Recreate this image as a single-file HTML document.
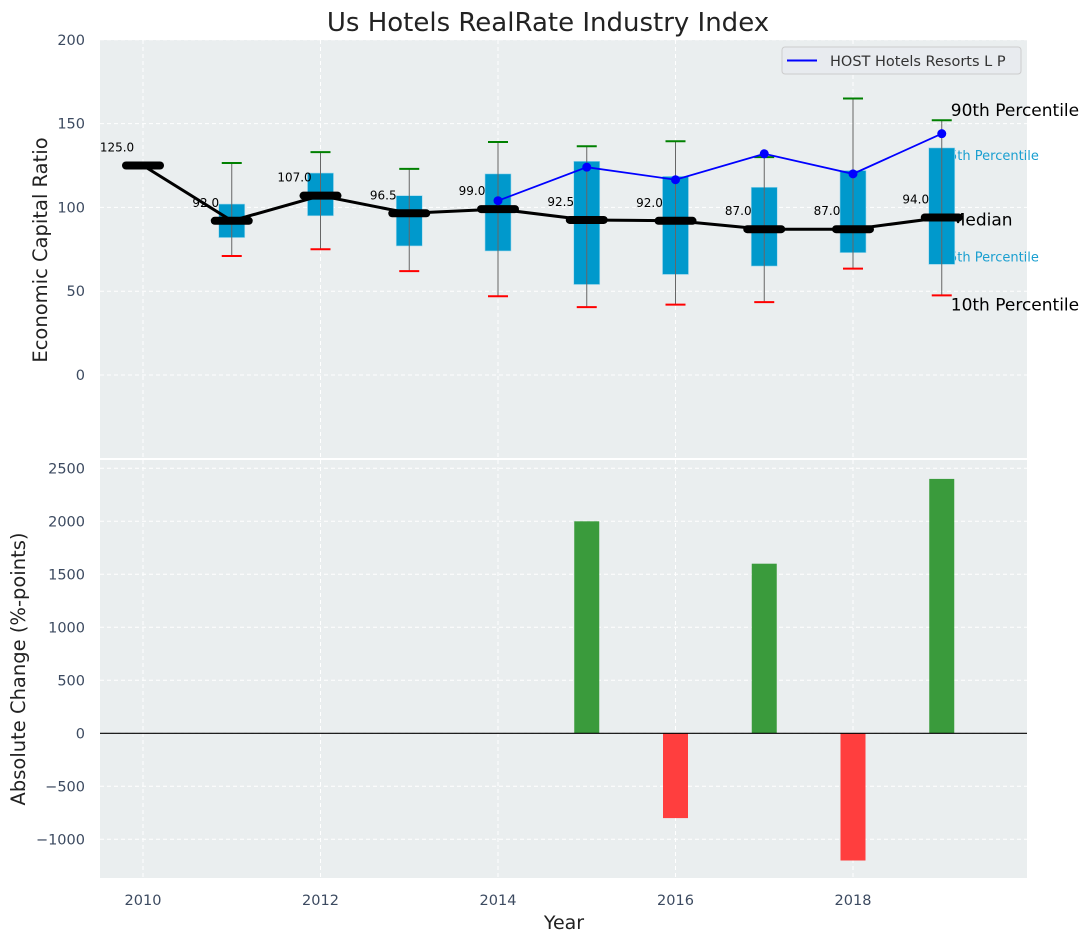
<!DOCTYPE html>
<html><head><meta charset="utf-8"><style>
body{margin:0;background:#fff}
svg text{font-family:"DejaVu Sans","Liberation Sans",sans-serif}
</style></head><body>
<svg id="c" width="1085" height="942" xmlns="http://www.w3.org/2000/svg"></svg>
<script>
const years=[2010,2011,2012,2013,2014,2015,2016,2017,2018,2019];
const medians=[125,92,107,96.5,99,92.5,92,87,87,94];
const q25=[null,82,95,77,74,54,60,65,73,66];
const q75=[null,102,120.5,107,120,127.5,118.5,112,122,135.5];
const p90=[null,126.5,133,123,139,136.5,139.5,130,165,152];
const p10=[null,71,75,62,47,40.5,42,43.5,63.5,47.5];
const hostYears=[2014,2015,2016,2017,2018,2019];
const hostVals=[104,124,116.5,132,120,144];
const changeYears=[2015,2016,2017,2018,2019];
const changeVals=[2000,-800,1600,-1200,2400];
const topTicks=[0,50,100,150,200];
const botTicks=[-1000,-500,0,500,1000,1500,2000,2500];
const xTicks=[2010,2012,2014,2016,2018];

const NS="http://www.w3.org/2000/svg";
const svg=document.getElementById('c');
const L=100,R=1027;
const x=v=>143+(v-2010)*88.75;
const yT=v=>375-v*1.676;
const yB=v=>733.3-v*0.106;
function el(t,a,p){const e=document.createElementNS(NS,t);for(const k in a)e.setAttribute(k,a[k]);(p||svg).appendChild(e);return e;}
function tx(s,a,p){const e=el('text',a,p);e.textContent=s;return e;}

let bg=el('rect',{x:L,y:40,width:R-L,height:418,fill:'#eaeeef'});


let bg2=el('rect',{x:L,y:460,width:R-L,height:418,fill:'#eaeeef'});



for(const t of topTicks){el('line',{x1:L,x2:R,y1:yT(t),y2:yT(t),stroke:'#fff','stroke-dasharray':'4,3'});
 const e=tx(t,{x:85,y:yT(t)+5,'text-anchor':'end','font-size':14.5,fill:'#3c4a60'});
 
 }
for(const t of botTicks){el('line',{x1:L,x2:R,y1:yB(t),y2:yB(t),stroke:'#fff','stroke-dasharray':'4,3'});
 const e=tx(t<0?'\u2212'+(-t):t,{x:85,y:yB(t)+5,'text-anchor':'end','font-size':14.5,fill:'#3c4a60'});
 
 }
for(const t of xTicks){
 el('line',{x1:x(t),x2:x(t),y1:40,y2:458,stroke:'#fff','stroke-dasharray':'4,3'});
 el('line',{x1:x(t),x2:x(t),y1:460,y2:878,stroke:'#fff','stroke-dasharray':'4,3'});
 const e=tx(t,{x:x(t),y:905,'text-anchor':'middle','font-size':14.5,fill:'#3c4a60'});
 
 }
el('line',{x1:L,x2:R,y1:459,y2:459,stroke:'#fff','stroke-width':2});

const xa=x(2019)+9;
[['90th Percentile',yT(p90[9])-4,17,'#000'],['75th Percentile',yT(q75[9])+12,13,'#1a9fd0'],['Median',yT(medians[9])+8,17,'#000'],['25th Percentile',yT(q25[9])-3,13,'#1a9fd0'],['10th Percentile',yT(p10[9])+15,17,'#000']].forEach(a=>{
 const e=tx(a[0],{x:a[0].includes('5th')?xa-10:xa,y:a[1],'font-size':a[2],fill:a[3]});
 
 });

years.forEach((yr,i)=>{
 if(q25[i]===null)return;
 const b=el('rect',{x:x(yr)-13,y:yT(q75[i]),width:26,height:yT(q25[i])-yT(q75[i]),fill:'#0099cc',stroke:'#a0d8ec','stroke-width':0.6});
 
 
 el('line',{x1:x(yr),x2:x(yr),y1:yT(p90[i]),y2:yT(p10[i]),stroke:'#666','stroke-width':1});
 const g=el('line',{x1:x(yr)-10,x2:x(yr)+10,y1:yT(p90[i]),y2:yT(p90[i]),stroke:'green','stroke-width':2});
 
 
 const r=el('line',{x1:x(yr)-10,x2:x(yr)+10,y1:yT(p10[i]),y2:yT(p10[i]),stroke:'red','stroke-width':2});
 
 
});
const mp=el('polyline',{points:years.map((yr,i)=>x(yr)+','+yT(medians[i])).join(' '),fill:'none',stroke:'#000','stroke-width':3});


years.forEach((yr,i)=>{
 const m=el('line',{x1:x(yr)-17,x2:x(yr)+17,y1:yT(medians[i]),y2:yT(medians[i]),stroke:'#000','stroke-width':8,'stroke-linecap':'round'});
 
 
 const t=tx(medians[i].toFixed(1),{x:x(yr)-26,y:yT(medians[i])-14,'text-anchor':'middle','font-size':12,fill:'#000'});
 
 
});
const hp=el('polyline',{points:hostYears.map((yr,i)=>x(yr)+','+yT(hostVals[i])).join(' '),fill:'none',stroke:'blue','stroke-width':1.8});


hostYears.forEach((yr,i)=>{const c=el('circle',{cx:x(yr),cy:yT(hostVals[i]),r:4.5,fill:'blue'});
 
 });

const lg=el('g',{});


el('rect',{x:782,y:47,width:239,height:27,rx:3,fill:'#e8ebef',stroke:'#ccc'},lg);
el('line',{x1:787,x2:817,y1:60.5,y2:60.5,stroke:'blue','stroke-width':2},lg);
tx('HOST Hotels Resorts L P',{x:830,y:66,'font-size':14.5,fill:'#333'},lg);

changeYears.forEach((yr,i)=>{const v=changeVals[i];
 const b=el('rect',{x:x(yr)-12.5,y:Math.min(yB(v),yB(0)),width:25,height:Math.abs(yB(v)-yB(0)),fill:v>=0?'#3a9b3c':'#ff3e3e'});
 
 });
el('line',{x1:L,x2:R,y1:yB(0),y2:yB(0),stroke:'#000','stroke-width':1.2});

let t=tx('Us Hotels RealRate Industry Index',{x:548,y:31,'text-anchor':'middle','font-size':26,fill:'#222'});


t=tx('Economic Capital Ratio',{x:0,y:0,transform:'translate(47,250) rotate(-90)','text-anchor':'middle','font-size':19.5,fill:'#222'});


t=tx('Absolute Change (%-points)',{x:0,y:0,transform:'translate(25,669) rotate(-90)','text-anchor':'middle','font-size':19.5,fill:'#222'});


t=tx('Year',{x:564,y:929,'text-anchor':'middle','font-size':19,fill:'#222'});


</script>
</body></html>
